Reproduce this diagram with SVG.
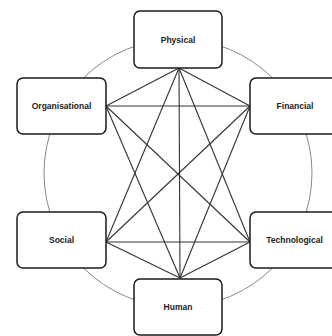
<svg xmlns="http://www.w3.org/2000/svg" width="332" height="336" viewBox="0 0 332 336">
<style>
.box{fill:#fff;stroke:#1a1a1a;stroke-width:1.5}
.lbl{font-family:"Liberation Sans",Arial,sans-serif;font-weight:bold;font-size:8.5px;fill:#222;text-anchor:middle;dominant-baseline:central}
.ring{fill:none;stroke:#888;stroke-width:1}
.edge{stroke:#333;stroke-width:1.1}
</style>
<rect width="332" height="336" fill="#fff"/>
<circle class="ring" cx="178" cy="173" r="134"/>
<g id="connectors">
<line class="edge" x1="179" y1="68" x2="106" y2="106"/>
<line class="edge" x1="179" y1="68" x2="250" y2="106"/>
<line class="edge" x1="179" y1="68" x2="106" y2="242"/>
<line class="edge" x1="179" y1="68" x2="250" y2="242"/>
<line class="edge" x1="179" y1="68" x2="180" y2="278"/>
<line class="edge" x1="106" y1="106" x2="250" y2="106"/>
<line class="edge" x1="106" y1="106" x2="250" y2="242"/>
<line class="edge" x1="106" y1="106" x2="180" y2="278"/>
<line class="edge" x1="250" y1="106" x2="106" y2="242"/>
<line class="edge" x1="250" y1="106" x2="180" y2="278"/>
<line class="edge" x1="106" y1="242" x2="250" y2="242"/>
<line class="edge" x1="106" y1="242" x2="180" y2="278"/>
<line class="edge" x1="250" y1="242" x2="180" y2="278"/>
</g>
<g id="physical"><rect class="box" x="134" y="11" width="88" height="57" rx="6"/><text class="lbl" x="178" y="39.5">Physical</text></g>
<g id="organisational"><rect class="box" x="17" y="78" width="89" height="56" rx="6"/><text class="lbl" x="61.5" y="106">Organisational</text></g>
<g id="financial"><rect class="box" x="250" y="78" width="89" height="56" rx="6"/><text class="lbl" x="295" y="106">Financial</text></g>
<g id="social"><rect class="box" x="17" y="212" width="89" height="56" rx="6"/><text class="lbl" x="61.5" y="240">Social</text></g>
<g id="technological"><rect class="box" x="250" y="212" width="89" height="56" rx="6"/><text class="lbl" x="294.5" y="240">Technological</text></g>
<g id="human"><rect class="box" x="134" y="279" width="88" height="56" rx="6"/><text class="lbl" x="178" y="307">Human</text></g>
</svg>
